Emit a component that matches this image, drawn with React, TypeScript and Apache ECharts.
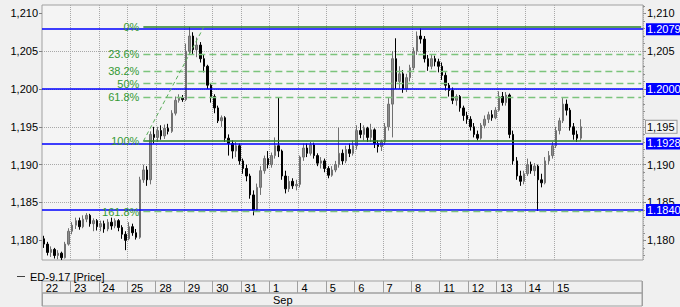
import React, { useEffect, useRef } from 'react';
import * as echarts from 'echarts';

// ---- axis / calendar ----
const DAY_LABELS = ['22', '23', '24', '25', '28', '29', '30', '31', '1', '4', '5', '6', '7', '8', '11', '12', '13', '14', '15'];
const MONTH_LABEL = 'Sep';
const MONTH_START_DAY = 8; // index of "1" in DAY_LABELS
const BARS_PER_DAY = 8;
const EMPTY_SLOTS = 17;

const Y_MIN = 1.1774;
const Y_MAX = 1.2111;
const Y_TICKS = [1.18, 1.185, 1.19, 1.195, 1.2, 1.205, 1.21];
// right-hand labels (1,200 sits under its blue price box, 1,195 under the last-price box)
const Y_TICKS_RIGHT_LABELS = [1.18, 1.185, 1.19, 1.205, 1.21];
const Y_MINOR_TICKS = [
  1.178, 1.179, 1.18, 1.181, 1.182, 1.183, 1.184, 1.185, 1.186, 1.187, 1.188, 1.189, 1.19,
  1.191, 1.192, 1.193, 1.194, 1.195, 1.196, 1.197, 1.198, 1.199, 1.2, 1.201, 1.202, 1.203,
  1.204, 1.205, 1.206, 1.207, 1.208, 1.209, 1.21, 1.211,
];

// ---- price bars: [open, close, low, high] ----
const d22 = [[1.1802, 1.1795, 1.179, 1.1806], [1.1795, 1.1784, 1.178, 1.1798], [1.1784, 1.1788, 1.1778, 1.1792], [1.1788, 1.178, 1.1776, 1.179], [1.178, 1.1783, 1.1775, 1.1787], [1.1783, 1.1777, 1.1774, 1.1785], [1.1777, 1.1795, 1.1776, 1.1798], [1.1795, 1.1812, 1.1793, 1.1816]];
const d23 = [[1.1812, 1.182, 1.1808, 1.1824], [1.182, 1.1826, 1.1815, 1.183], [1.1826, 1.1818, 1.1814, 1.183], [1.1818, 1.1828, 1.1816, 1.1833], [1.1828, 1.1833, 1.1824, 1.1836], [1.1833, 1.1822, 1.1818, 1.1835], [1.1822, 1.1826, 1.1812, 1.1829], [1.1826, 1.1818, 1.1813, 1.1828]];
const d24 = [[1.1818, 1.1822, 1.1812, 1.1826], [1.1822, 1.1815, 1.181, 1.1826], [1.1815, 1.1824, 1.1812, 1.1828], [1.1824, 1.1819, 1.1814, 1.183], [1.1819, 1.1826, 1.1816, 1.1829], [1.1826, 1.1817, 1.1812, 1.1828], [1.1817, 1.1808, 1.1802, 1.182], [1.1808, 1.18, 1.1787, 1.1812]];
const d25 = [[1.1802, 1.1818, 1.18, 1.1824], [1.1818, 1.181, 1.1806, 1.1822], [1.181, 1.1804, 1.1801, 1.1815], [1.1804, 1.188, 1.1802, 1.1884], [1.188, 1.1893, 1.1876, 1.19], [1.1893, 1.188, 1.1872, 1.1898], [1.188, 1.194, 1.1874, 1.1944], [1.194, 1.1936, 1.1928, 1.195]];
const d28 = [[1.1936, 1.1945, 1.193, 1.195], [1.1945, 1.1938, 1.1933, 1.1952], [1.1938, 1.1948, 1.1934, 1.1953], [1.1948, 1.1944, 1.194, 1.1954], [1.1944, 1.1968, 1.1942, 1.1972], [1.1968, 1.1985, 1.1965, 1.199], [1.1985, 1.1988, 1.1982, 1.1993], [1.1988, 1.1986, 1.1983, 1.1992]];
const d29 = [[1.1986, 1.205, 1.1984, 1.206], [1.205, 1.207, 1.2045, 1.2082], [1.207, 1.2052, 1.2045, 1.2075], [1.2052, 1.2058, 1.2042, 1.2068], [1.2058, 1.204, 1.2035, 1.2062], [1.204, 1.203, 1.2022, 1.2045], [1.203, 1.2005, 1.2, 1.2032], [1.2005, 1.199, 1.1982, 1.2008]];
const d30 = [[1.199, 1.1975, 1.1968, 1.1993], [1.1975, 1.1958, 1.1955, 1.1978], [1.1958, 1.1962, 1.195, 1.1965], [1.1962, 1.1935, 1.193, 1.1964], [1.1935, 1.1928, 1.1912, 1.194], [1.1928, 1.1918, 1.1908, 1.1932], [1.1918, 1.1925, 1.191, 1.193], [1.1925, 1.1905, 1.19, 1.1928]];
const d31 = [[1.1905, 1.1895, 1.1888, 1.1908], [1.1895, 1.1885, 1.1878, 1.19], [1.1885, 1.186, 1.1855, 1.1888], [1.186, 1.184, 1.1833, 1.1866], [1.184, 1.187, 1.1838, 1.1875], [1.187, 1.1892, 1.186, 1.1898], [1.1892, 1.1908, 1.1888, 1.1912], [1.1908, 1.19, 1.1895, 1.1918]];
const s01 = [[1.19, 1.1912, 1.1896, 1.1916], [1.1912, 1.1925, 1.1908, 1.1936], [1.1925, 1.1918, 1.191, 1.1989], [1.1918, 1.1885, 1.188, 1.192], [1.1885, 1.1868, 1.1862, 1.1892], [1.1868, 1.1878, 1.1864, 1.1885], [1.1878, 1.1872, 1.1868, 1.1882], [1.1872, 1.1874, 1.1866, 1.188]];
const s04 = [[1.1874, 1.191, 1.187, 1.1912], [1.191, 1.1922, 1.1905, 1.1928], [1.1922, 1.1915, 1.191, 1.1928], [1.1915, 1.1926, 1.1912, 1.193], [1.1926, 1.1912, 1.1908, 1.1929], [1.1912, 1.1902, 1.1898, 1.1915], [1.1902, 1.1905, 1.1895, 1.191], [1.1905, 1.1895, 1.189, 1.1908]];
const s05 = [[1.1895, 1.1886, 1.1882, 1.1898], [1.1886, 1.1893, 1.1884, 1.1898], [1.1893, 1.19, 1.189, 1.1905], [1.19, 1.1915, 1.1896, 1.1949], [1.1915, 1.1905, 1.19, 1.192], [1.1905, 1.192, 1.1902, 1.1925], [1.192, 1.1915, 1.191, 1.1928], [1.1915, 1.1925, 1.1912, 1.1932]];
const s06 = [[1.1925, 1.1945, 1.192, 1.1952], [1.1945, 1.194, 1.1935, 1.1955], [1.194, 1.1948, 1.1932, 1.1952], [1.1948, 1.1936, 1.193, 1.195], [1.1936, 1.1946, 1.193, 1.1954], [1.1946, 1.1928, 1.1922, 1.1948], [1.1928, 1.1924, 1.1916, 1.1932], [1.1924, 1.193, 1.1918, 1.1933]];
const s07 = [[1.193, 1.195, 1.1926, 1.1955], [1.195, 1.198, 1.1945, 1.1988], [1.198, 1.204, 1.1936, 1.205], [1.204, 1.201, 1.2, 1.2067], [1.201, 1.202, 1.2, 1.203], [1.202, 1.2, 1.1995, 1.2025], [1.2, 1.2015, 1.1996, 1.202], [1.2015, 1.2028, 1.201, 1.2032]];
const s08 = [[1.2028, 1.205, 1.2025, 1.2055], [1.205, 1.207, 1.2045, 1.2076], [1.207, 1.2066, 1.206, 1.208], [1.2066, 1.204, 1.2035, 1.207], [1.204, 1.203, 1.2024, 1.2045], [1.203, 1.204, 1.2026, 1.2045], [1.204, 1.2036, 1.203, 1.2044], [1.2036, 1.203, 1.2022, 1.204]];
const s11 = [[1.203, 1.2018, 1.2012, 1.2035], [1.2018, 1.2005, 1.1998, 1.2022], [1.2005, 1.1998, 1.199, 1.2008], [1.1998, 1.1985, 1.198, 1.2002], [1.1985, 1.199, 1.1978, 1.1993], [1.199, 1.1975, 1.197, 1.1992], [1.1975, 1.1965, 1.1958, 1.1978], [1.1965, 1.196, 1.1954, 1.197]];
const s12 = [[1.196, 1.195, 1.1945, 1.1964], [1.195, 1.194, 1.1936, 1.1955], [1.194, 1.1935, 1.1932, 1.1945], [1.1935, 1.1952, 1.1933, 1.1955], [1.1952, 1.196, 1.1948, 1.1965], [1.196, 1.1966, 1.1955, 1.197], [1.1966, 1.1962, 1.1958, 1.1972], [1.1962, 1.1972, 1.196, 1.1976]];
const s13 = [[1.1972, 1.199, 1.197, 1.1997], [1.199, 1.1982, 1.1978, 1.1996], [1.1982, 1.1992, 1.1978, 1.1996], [1.1992, 1.194, 1.1935, 1.1994], [1.194, 1.1905, 1.19, 1.1945], [1.1905, 1.1885, 1.188, 1.191], [1.1885, 1.1878, 1.1872, 1.1892], [1.1878, 1.1888, 1.1874, 1.1892]];
const s14 = [[1.1888, 1.19, 1.1885, 1.1908], [1.19, 1.1892, 1.1888, 1.1904], [1.1892, 1.1898, 1.1885, 1.1902], [1.1898, 1.188, 1.1839, 1.19], [1.188, 1.1876, 1.187, 1.1888], [1.1876, 1.1905, 1.1874, 1.191], [1.1905, 1.1912, 1.19, 1.1918], [1.1912, 1.1925, 1.1908, 1.193]];
const s15 = [[1.1925, 1.1945, 1.1922, 1.195], [1.1945, 1.1958, 1.194, 1.1962], [1.1958, 1.198, 1.1955, 1.1988], [1.198, 1.1972, 1.1965, 1.1986], [1.1972, 1.195, 1.1945, 1.1975], [1.195, 1.194, 1.1933, 1.1955], [1.194, 1.1935, 1.193, 1.1945], [1.1935, 1.195, 1.1932, 1.196]];
const DAYS = [d22, d23, d24, d25, d28, d29, d30, d31, s01, s04, s05, s06, s07, s08, s11, s12, s13, s14, s15];

// ---- horizontal levels ----
const PRICE_LINES = [1.2079, 1.2, 1.1928, 1.184];
const LAST_PRICE = 1.195;
const FIB_LABELS = ['0%', '23.6%', '38.2%', '50%', '61.8%', '100%', '161.8%'];
const FIB_VALUES = [1.2082, 1.2046, 1.2024, 1.2007, 1.1989, 1.1931, 1.1838];
const FIB_SOLID = [true, false, false, false, false, true, false];
const FIB_START_SLOT = 28;
const FIB_HIGH_SLOT = 45;

const SERIES_NAME = 'ED-9.17 [Price]';
const FONT = '"Liberation Sans", Arial, sans-serif';

const comma = (v: number) => v.toFixed(3).replace('.', ',');

export default function App() {
  const ref = useRef<HTMLDivElement>(null);

  useEffect(() => {
    if (!ref.current) return;
    const chart = echarts.init(ref.current, null, { renderer: 'svg' });

    const candles: number[][] = [];
    DAYS.forEach((day) => day.forEach((b) => candles.push([b[0], b[1], b[2], b[3]])));
    const totalSlots = DAYS.length * BARS_PER_DAY + EMPTY_SLOTS;
    const lastSlot = totalSlots - 1;
    const slots: string[] = [];
    const daySlots: string[] = [];
    const monthSlots: string[] = [];
    for (let i = 0; i < totalSlots; i++) {
      slots.push(String(i));
      const dayIdx = i / BARS_PER_DAY;
      daySlots.push(i % BARS_PER_DAY === 0 && dayIdx < DAY_LABELS.length ? DAY_LABELS[dayIdx] : '');
      monthSlots.push(i === MONTH_START_DAY * BARS_PER_DAY ? MONTH_LABEL : '');
    }
    const dayBoundary = (i: number) =>
      i > 0 && i % BARS_PER_DAY === 0 && i < DAY_LABELS.length * BARS_PER_DAY;

    const green = '#339933';
    const markData: any[] = [];
    PRICE_LINES.forEach((v) => {
      markData.push({
        yAxis: v,
        lineStyle: { color: '#0000ff', width: 1.5, type: 'solid' },
        label: {
          show: true,
          position: 'end',
          formatter: v.toFixed(4),
          color: '#ffffff',
          backgroundColor: '#0000ff',
          fontSize: 11,
          fontFamily: FONT,
          padding: [1, 1, 0, 1],
          distance: 3,
        },
      });
    });
    FIB_VALUES.forEach((v, k) => {
      markData.push([
        {
          coord: [FIB_START_SLOT, v],
          lineStyle: FIB_SOLID[k]
            ? { color: '#2a802a', width: 1.5, type: 'solid' }
            : { color: '#7cc47c', width: 1.3, type: [7, 4] },
          label: {
            show: true,
            position: 'start',
            formatter: FIB_LABELS[k],
            color: green,
            fontSize: 11,
            fontFamily: FONT,
            distance: 4,
          },
        },
        { coord: [lastSlot, v] },
      ]);
    });
    markData.push([
      {
        coord: [FIB_START_SLOT, FIB_VALUES[5]],
        lineStyle: { color: '#5aae5a', width: 1, type: [4, 3] },
        label: { show: false },
      },
      { coord: [FIB_HIGH_SLOT, FIB_VALUES[0]] },
    ]);
    markData.push({
      yAxis: LAST_PRICE,
      lineStyle: { color: 'rgba(0,0,0,0)', width: 1, type: 'solid' },
      label: {
        show: true,
        position: 'end',
        formatter: comma(LAST_PRICE),
        color: '#000',
        backgroundColor: '#f4f4f4',
        borderColor: '#999999',
        borderWidth: 1,
        fontSize: 11,
        fontFamily: FONT,
        padding: [1, 2, 0, 1],
        distance: 3,
      },
    });

    const axisLabelBase = { color: '#000', fontSize: 11, fontFamily: FONT };
    const hiddenY = (gridIndex: number) => ({
      type: 'value', gridIndex, min: 0, max: 1,
      axisLine: { show: false }, axisTick: { show: false }, axisLabel: { show: false }, splitLine: { show: false },
    });

    chart.setOption({
      animation: false,
      backgroundColor: '#f0f0f0',
      textStyle: { fontFamily: FONT },
      legend: {
        left: 12,
        top: 266,
        itemWidth: 8,
        itemHeight: 1,
        itemGap: 5,
        textStyle: { color: '#000', fontSize: 11, fontFamily: FONT },
        data: [{ name: SERIES_NAME, icon: 'rect', itemStyle: { color: '#404040', borderWidth: 0 } }],
      },
      grid: [
        { left: 42, top: 5, width: 601, height: 255, show: true, backgroundColor: '#f4f4f4', borderColor: '#a0a0a0', borderWidth: 1 },
        { left: 42, top: 281, width: 600, height: 12, show: true, backgroundColor: 'transparent', borderColor: '#a0a0a0', borderWidth: 1 },
        { left: 42, top: 293, width: 600, height: 13, show: true, backgroundColor: 'transparent', borderColor: '#a0a0a0', borderWidth: 1 },
      ],
      xAxis: [
        {
          type: 'category', gridIndex: 0, data: slots, boundaryGap: true,
          axisLine: { show: false }, axisTick: { show: false }, axisLabel: { show: false },
          splitLine: { show: true, interval: (i: number) => dayBoundary(i), lineStyle: { color: '#a8a8a8', width: 1, type: [1, 1] } },
        },
        {
          type: 'category', gridIndex: 1, data: daySlots, boundaryGap: true, position: 'top',
          axisLine: { show: false }, axisTick: { show: false },
          axisLabel: { ...axisLabelBase, show: true, inside: true, interval: (i: number) => daySlots[i] !== '', align: 'left', margin: 1, padding: [0, 0, 0, 2] },
          splitLine: { show: true, interval: (i: number) => dayBoundary(i), lineStyle: { color: '#a0a0a0', width: 1 } },
        },
        {
          type: 'category', gridIndex: 2, data: monthSlots, boundaryGap: true, position: 'top',
          axisLine: { show: false }, axisTick: { show: false },
          axisLabel: { ...axisLabelBase, show: true, inside: true, interval: (i: number) => monthSlots[i] !== '', align: 'left', margin: 1, padding: [0, 0, 0, 2] },
          splitLine: { show: true, interval: (i: number) => monthSlots[i] !== '', lineStyle: { color: '#a0a0a0', width: 1 } },
        },
      ],
      yAxis: [
        {
          type: 'value', gridIndex: 0, position: 'left', min: Y_MIN, max: Y_MAX,
          axisLine: { show: false },
          axisTick: { show: true, customValues: Y_TICKS, length: 3, lineStyle: { color: '#808080' } },
          axisLabel: { ...axisLabelBase, customValues: Y_TICKS, formatter: (v: number) => comma(v), margin: 4 },
          splitLine: { show: true, showMinLine: false, showMaxLine: false, lineStyle: { color: '#a8a8a8', width: 1, type: [1, 1] } },
        },
        {
          type: 'value', gridIndex: 0, position: 'right', min: Y_MIN, max: Y_MAX,
          axisLine: { show: false },
          axisTick: { show: true, customValues: Y_TICKS, length: 3, lineStyle: { color: '#808080' } },
          axisLabel: { ...axisLabelBase, customValues: Y_TICKS_RIGHT_LABELS, formatter: (v: number) => comma(v), margin: 4 },
          splitLine: { show: false },
        },
        {
          type: 'value', gridIndex: 0, position: 'right', min: Y_MIN, max: Y_MAX,
          axisLine: { show: false },
          axisTick: { show: true, customValues: Y_MINOR_TICKS, length: 2, lineStyle: { color: '#909090' } },
          axisLabel: { show: false },
          splitLine: { show: false },
        },
        hiddenY(1),
        hiddenY(2),
      ],
      series: [
        {
          name: SERIES_NAME,
          type: 'candlestick',
          xAxisIndex: 0,
          yAxisIndex: 0,
          data: candles,
          barWidth: 2,
          itemStyle: { color: '#8c8c8c', color0: '#000000', borderColor: '#707070', borderColor0: '#000000', borderWidth: 1 },
          markLine: { silent: true, precision: 4, symbol: ['none', 'none'], animation: false, data: markData },
        },
      ],
    });

    return () => chart.dispose();
  }, []);

  return <div ref={ref} style={{ position: 'fixed', left: 0, top: 0, width: 680, height: 307, background: '#f0f0f0' }} />;
}
